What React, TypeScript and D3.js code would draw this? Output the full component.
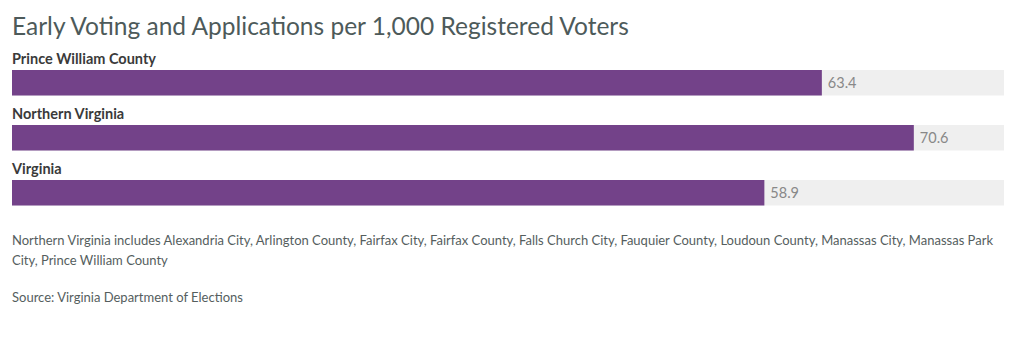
import React from "react";
import * as d3 from "d3";

const categories = ["Prince William County", "Northern Virginia", "Virginia"];
const values = [63.4, 70.6, 58.9];
const titleText = "Early Voting and Applications per 1,000 Registered Voters";
const noteLines = [
  "Northern Virginia includes Alexandria City, Arlington County, Fairfax City, Fairfax County, Falls Church City, Fauquier County, Loudoun County, Manassas City, Manassas Park",
  "City, Prince William County",
];
const sourceText = "Source: Virginia Department of Elections";

const W = 1024;
const H = 357;
const FONT = "Lato, 'Open Sans', sans-serif";

export default function App() {
  const left = 12;
  const right = 1004;
  const x = d3
    .scaleLinear()
    .domain([0, (d3.max(values) as number) * 1.1])
    .range([left, right]);
  const y = d3.scaleBand().domain(categories).range([70, 235]).paddingInner(0).paddingOuter(0);
  const barH = 25.5;

  return (
    <svg
      width={W}
      height={H}
      style={{ position: "absolute", left: 0, top: 0, background: "#fff" }}
      fontFamily={FONT}
    >
      <text x={12} y={35} fontSize={24.5} fill="#4d5a5a">
        {titleText}
      </text>
      {categories.map((c, i) => {
        const by = y(c) as number;
        return (
          <g key={c}>
            <text x={12} y={by - 6} fontSize={14.5} fontWeight={700} fill="#3a3a3a">
              {c}
            </text>
            <rect x={x(0)} y={by} width={x(x.domain()[1]) - x(0)} height={barH} fill="#efefef" />
            <rect x={x(0)} y={by} width={x(values[i]) - x(0)} height={barH} fill="#734289" />
            <text
              x={x(values[i]) + 6}
              y={by + barH / 2}
              dy="0.35em"
              fontSize={14.5}
              fill="#888"
            >
              {values[i].toFixed(1)}
            </text>
          </g>
        );
      })}
      {noteLines.map((l, i) => (
        <text key={i} x={12} y={245 + i * 20} fontSize={13} fill="#555e5e">
          {l}
        </text>
      ))}
      <text x={12} y={302} fontSize={13} fill="#555e5e">
        {sourceText}
      </text>
    </svg>
  );
}
